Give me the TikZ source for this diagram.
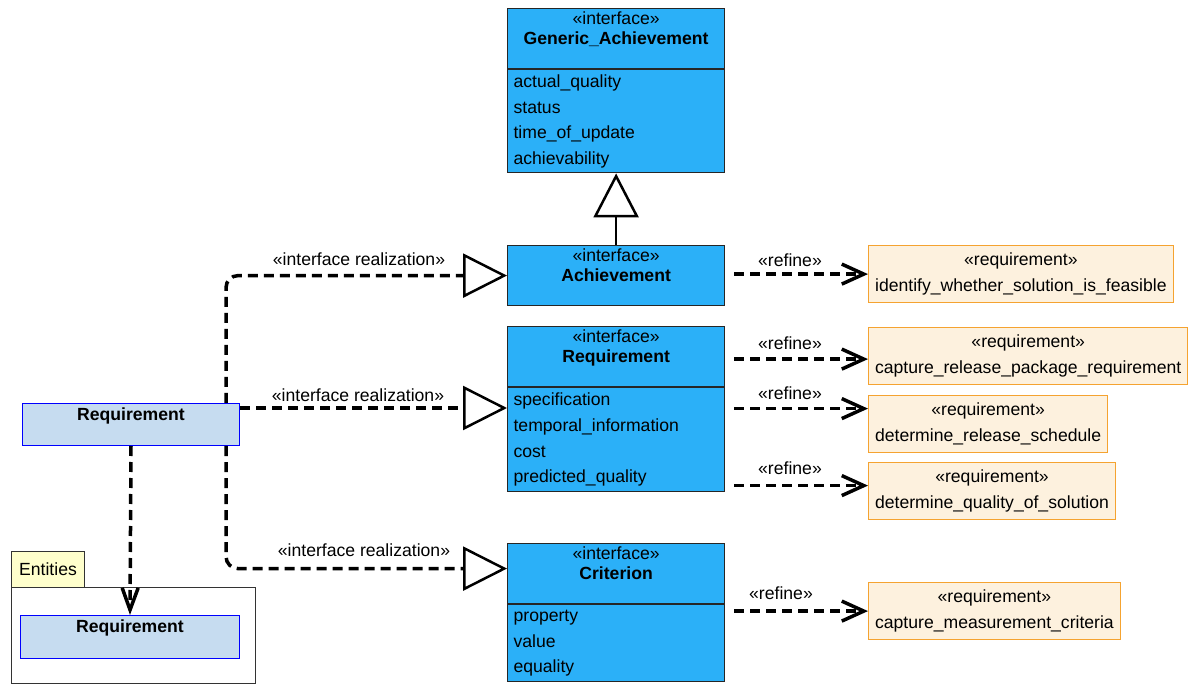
\documentclass[tikz,border=0pt]{standalone}
\usepackage{fontspec}
\setmainfont{Liberation Sans}
\usepackage{xcolor}
\definecolor{ifaceBlue}{HTML}{2BB0F8}
\definecolor{classBlue}{HTML}{C6DCF0}
\definecolor{reqCream}{HTML}{FDF1DE}
\definecolor{reqOrange}{HTML}{F5A330}
\definecolor{pkgYellow}{HTML}{FFFFCC}
\usetikzlibrary{arrows.meta}

\begin{document}
\begin{tikzpicture}[x=1pt, y=-1pt,
  every node/.style={font=\fontsize{17.6}{19.5}\selectfont},
  ifhead/.style={draw=black!85, fill=ifaceBlue, line width=1.2pt, anchor=north west,
    minimum width=217pt, minimum height=60pt, inner sep=0pt},
  iftitle/.style={anchor=north, align=center, inner sep=4pt},
  ifbody/.style={draw=black!85, fill=ifaceBlue, line width=1.2pt, anchor=north west,
    text width=205pt, inner xsep=6pt, inner ysep=0pt, align=left,
    font=\fontsize{17.6}{25.6}\selectfont},
  cls/.style={draw=blue, fill=classBlue, line width=1pt, anchor=north west,
    minimum height=42pt, inner sep=0pt},
  clstitle/.style={anchor=north, inner sep=4.5pt, font=\fontsize{17.6}{19.5}\selectfont\bfseries},
  reqbox/.style={draw=reqOrange, fill=reqCream, line width=1.2pt, anchor=north west,
    minimum height=57pt, inner xsep=6.5pt, align=center,
    font=\fontsize{17.6}{26.5}\selectfont},
  pkgtab/.style={draw=black!80, fill=pkgYellow, line width=1pt, anchor=north west,
    minimum width=73pt, minimum height=36pt, inner sep=0pt},
  pkgbody/.style={draw=black!80, fill=white, line width=1pt, anchor=north west,
    minimum width=244pt, minimum height=96pt, inner sep=0pt},
  lbl/.style={inner sep=0pt},
  realize/.style={dash pattern=on 10pt off 6pt, line width=3.5pt, rounded corners=12pt,
    -{Triangle[fill=white, length=44pt, width=44pt, line width=2.5pt]}},
  refine/.style={dash pattern=on 10pt off 6pt, line width=3.5pt, shorten <=9pt,
    -{Straight Barb[length=22pt, width=20pt]}},
  gen/.style={line width=2.6pt, -{Triangle[fill=white, length=44pt, width=45pt, line width=2.5pt]}},
  dep/.style={dash pattern=on 10pt off 6pt, line width=3.5pt, -{Straight Barb[length=22pt, width=16pt]}}]
  \useasboundingbox (0,0) rectangle (1197,684);

  % interfaces
  \node[ifhead] (gaHead) at (507,8) {};
  \node[iftitle] (gaTitle) at (gaHead.north) {«interface»\\\textbf{Generic\_Achievement}};
  \node[ifbody, minimum height=103pt] (gaBody) at (gaHead.south west)
    {actual\_quality\\status\\time\_of\_update\\achievability};

  \node[ifhead] (achHead) at (507,245) {};
  \node[iftitle] (achTitle) at (achHead.north) {«interface»\\\textbf{Achievement}};

  \node[ifhead] (reqHead) at (507,326) {};
  \node[iftitle] (reqTitle) at (reqHead.north) {«interface»\\\textbf{Requirement}};
  \node[ifbody, minimum height=104pt] (reqBody) at (reqHead.south west)
    {specification\\temporal\_information\\cost\\predicted\_quality};

  \node[ifhead] (critHead) at (507,543) {};
  \node[iftitle] (critTitle) at (critHead.north) {«interface»\\\textbf{Criterion}};
  \node[ifbody, minimum height=77pt] (critBody) at (critHead.south west)
    {property\\value\\equality};

  % requirement class and the Entities package
  \node[cls, minimum width=217pt] (reqCls) at (22,403) {};
  \node[clstitle] (reqClsName) at (reqCls.north) {Requirement};

  \node[pkgtab] (entTab) at (11,551) {Entities};
  \node[pkgbody] (entBody) at (11,587) {};
  \node[cls, minimum width=219pt, minimum height=43pt] (entReq) at (20,615) {};
  \node[clstitle] (entReqName) at (entReq.north) {Requirement};

  % requirements on the right
  \node[reqbox] (refA) at (868,245) {«requirement»\\identify\_whether\_solution\_is\_feasible};
  \node[reqbox] (refB) at (868,327) {«requirement»\\capture\_release\_package\_requirement};
  \node[reqbox] (refC) at (868,395) {«requirement»\\determine\_release\_schedule};
  \node[reqbox] (refD) at (868,462) {«requirement»\\determine\_quality\_of\_solution};
  \node[reqbox] (refE) at (868,582) {«requirement»\\capture\_measurement\_criteria};

  % generalization and dependency
  \draw[gen] (achHead.north) -- (gaBody.south);
  \draw[dep] (reqCls.south) -- (entReq.north);

  % interface realizations
  \coordinate (irB) at ([yshift=-5pt]reqCls.north east);
  \coordinate (irC) at ([yshift=5pt]critHead.west);
  \draw[realize] ([xshift=-14pt]reqCls.north east) |- (achHead.west);
  \draw[realize] (irB) -- (irB -| reqBody.west);
  \draw[realize] ([xshift=-14pt]reqCls.south east) |- (irC);
  \node[lbl] (irLblA) at (359,259) {«interface realization»};
  \node[lbl] (irLblB) at (358,395) {«interface realization»};
  \node[lbl] (irLblC) at (364,550) {«interface realization»};

  % refines
  \coordinate (rfB) at ([yshift=-3pt]refB.west);
  \coordinate (rfC) at ([yshift=15.5pt]refC.west);
  \coordinate (rfD) at ([yshift=5.5pt]refD.west);
  \draw[refine] (refA.west -| achHead.east) -- (refA.west);
  \draw[refine] (rfB -| reqHead.east) -- (rfB);
  \draw[refine] (rfC -| reqHead.east) -- (rfC);
  \draw[refine] (rfD -| reqHead.east) -- (rfD);
  \draw[refine] (refE.west -| critHead.east) -- (refE.west);
  \node[lbl] (rfLblA) at (790,260) {«refine»};
  \node[lbl] (rfLblB) at (790,343) {«refine»};
  \node[lbl] (rfLblC) at (790,393) {«refine»};
  \node[lbl] (rfLblD) at (790,468) {«refine»};
  \node[lbl] (rfLblE) at (781,593) {«refine»};
\end{tikzpicture}
\end{document}
